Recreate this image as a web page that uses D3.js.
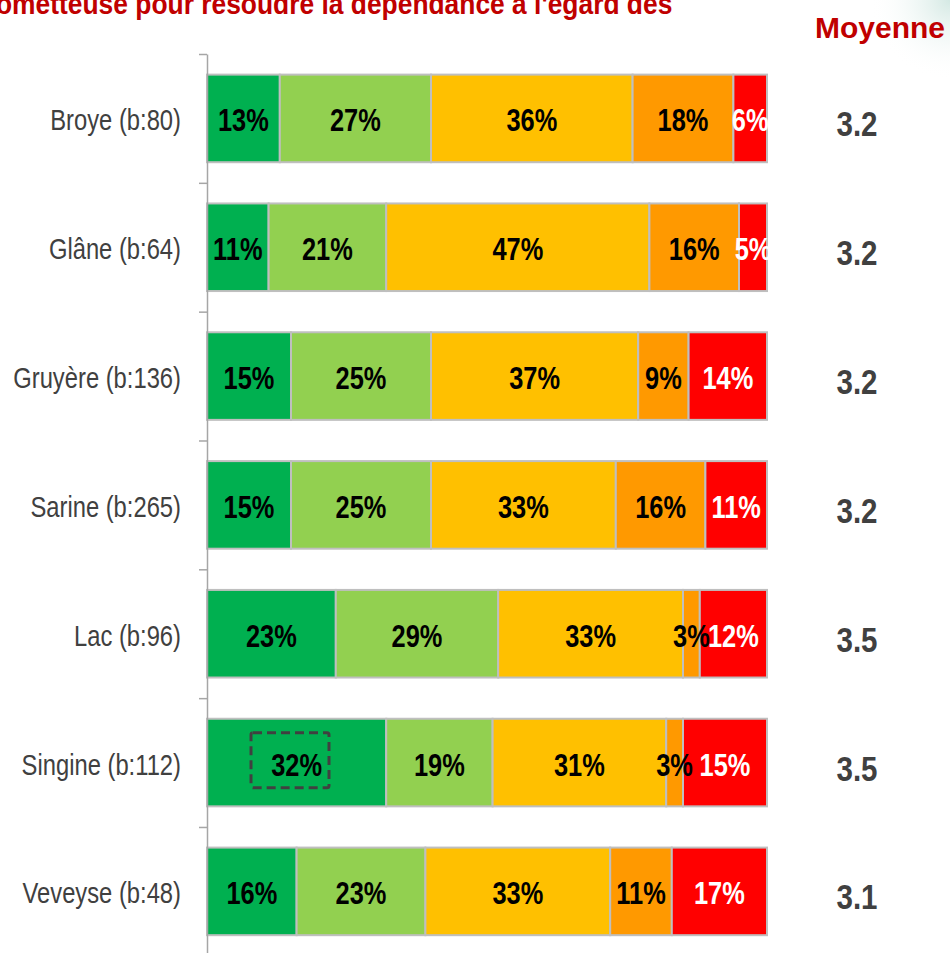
<!DOCTYPE html>
<html>
<head>
<meta charset="utf-8">
<script src="https://cdn.jsdelivr.net/npm/d3@7"></script>
<style>
  html, body { margin: 0; padding: 0; background: #fff; }
  svg { display: block; }
  text { font-family: "Liberation Sans", Arial, sans-serif; }
</style>
</head>
<body>
<svg width="950" height="953"></svg>
<script>
const regions = ['Broye (b:80)', 'Glâne (b:64)', 'Gruyère (b:136)', 'Sarine (b:265)', 'Lac (b:96)', 'Singine (b:112)', 'Veveyse (b:48)'];
const veryGood = [13, 11, 15, 15, 23, 32, 16];
const good = [27, 21, 25, 25, 29, 19, 23];
const medium = [36, 47, 37, 33, 33, 31, 33];
const poor = [18, 16, 9, 16, 3, 3, 11];
const bad = [6, 5, 14, 11, 12, 15, 17];
const averages = ['3.2', '3.2', '3.2', '3.2', '3.5', '3.5', '3.1'];
const titleText = "ometteuse pour résoudre la dépendance à l'égard des";
const highlighted = 'Singine (b:112)';

const keys = ['veryGood', 'good', 'medium', 'poor', 'bad'];
const colors = ['#00B050', '#92D050', '#FFC000', '#FF9900', '#FF0000'];
const labelColors = ['#000', '#000', '#000', '#000', '#fff'];

// the source uses a condensed face: squeeze text horizontally
const NARROW = 0.82;
const place = (px, py, sx) => `translate(${px},${py}) scale(${sx},1)`;

const rows = regions.map((r, i) => ({
  region: r,
  veryGood: veryGood[i], good: good[i], medium: medium[i], poor: poor[i], bad: bad[i]
}));

const stack = d3.stack().keys(keys)(rows);

const svg = d3.select('svg');

// faint decorative corner
const defs = svg.append('defs');
const grad = defs.append('radialGradient').attr('id', 'corner').attr('cx', 1).attr('cy', 0).attr('r', 1);
grad.append('stop').attr('offset', 0).attr('stop-color', '#cfe6e0').attr('stop-opacity', 0.9);
grad.append('stop').attr('offset', 1).attr('stop-color', '#ffffff').attr('stop-opacity', 0);
svg.append('rect').attr('x', 870).attr('y', 0).attr('width', 80).attr('height', 80).attr('fill', 'url(#corner)');

const x = d3.scaleLinear().domain([0, 100]).range([207, 767]);
const y = d3.scaleBand().domain(regions).range([54, 955.8]).paddingInner(0.32).paddingOuter(0.16);
const yTicks = d3.scaleLinear().domain([0, regions.length]).range([54, 955.8]);

// title (cut at the top) and column header
svg.append('text')
  .attr('transform', place(-4, 14, 0.91))
  .style('font-size', '29px').style('font-weight', 'bold')
  .attr('fill', '#C00000')
  .text(titleText);

svg.append('text')
  .attr('x', 945).attr('y', 38)
  .attr('text-anchor', 'end')
  .style('font-size', '30px').style('font-weight', 'bold')
  .attr('fill', '#C00000')
  .text('Moyenne');

// bars
svg.append('g')
  .selectAll('g')
  .data(stack)
  .enter()
  .append('g')
    .attr('fill', (d, i) => colors[i])
  .selectAll('rect')
  .data((d) => d)
  .enter()
  .append('rect')
    .attr('x', (d) => x(d[0]))
    .attr('y', (d) => y(d.data.region))
    .attr('width', (d) => x(d[1]) - x(d[0]))
    .attr('height', y.bandwidth())
    .attr('stroke', '#BFBFBF')
    .attr('stroke-width', 2);

// percentage labels, drawn above every bar
svg.append('g')
  .selectAll('g')
  .data(stack)
  .enter()
  .append('g')
    .attr('fill', (d, i) => labelColors[i])
  .selectAll('text')
  .data((d) => d)
  .enter()
  .append('text')
    .attr('transform', (d) => place((x(d[0]) + x(d[1])) / 2, y(d.data.region) + y.bandwidth() / 2 + 13, NARROW))
    .attr('text-anchor', 'middle')
    .style('font-size', '31px').style('font-weight', 'bold')
    .text((d) => (d[1] - d[0]) + '%');

// dashed highlight box
svg.append('rect')
  .attr('x', x(0) + 44)
  .attr('y', y(highlighted) + 14)
  .attr('width', 78)
  .attr('height', 55)
  .attr('fill', 'none')
  .attr('stroke', '#404040')
  .attr('stroke-width', 3)
  .attr('stroke-dasharray', '9,5')
  .attr('rx', 2);

// axis with ticks between categories
const axis = d3.axisLeft(yTicks)
  .tickValues(d3.range(regions.length + 1))
  .tickFormat('')
  .tickSize(8)
  .tickSizeOuter(0);

const axisG = svg.append('g')
  .attr('transform', 'translate(207, 0)')
  .call(axis);
axisG.selectAll('path, line').attr('stroke', '#A6A6A6').attr('stroke-width', 1.5);

// category labels
svg.selectAll('text.cat')
  .data(regions)
  .enter()
  .append('text')
    .attr('class', 'cat')
    .attr('transform', (d) => place(181, y(d) + y.bandwidth() / 2 + 12, NARROW))
    .attr('text-anchor', 'end')
    .style('font-size', '29px')
    .attr('fill', '#404040')
    .text((d) => d);

// averages
svg.selectAll('text.avg')
  .data(averages)
  .enter()
  .append('text')
    .attr('class', 'avg')
    .attr('transform', (d, i) => place(857, y(regions[i]) + y.bandwidth() / 2 + 18, NARROW))
    .attr('text-anchor', 'middle')
    .style('font-size', '36px').style('font-weight', 'bold')
    .attr('fill', '#404040')
    .text((d) => d);
</script>
</body>
</html>
